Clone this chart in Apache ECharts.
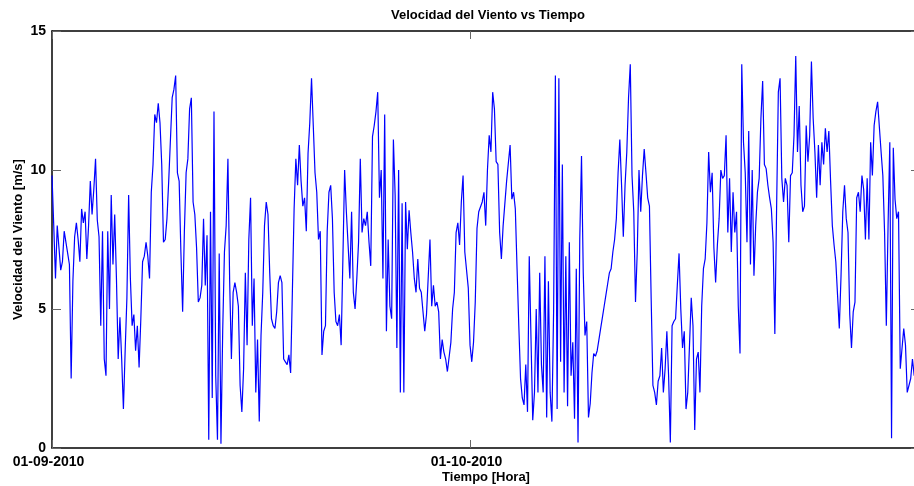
<!DOCTYPE html>
<html>
<head>
<meta charset="utf-8">
<script src="https://cdn.jsdelivr.net/npm/echarts@6.0.0/dist/echarts.min.js"></script>
<style>
html, body { margin: 0; padding: 0; background: #ffffff; }
#chart { width: 914px; height: 486px; }
</style>
</head>
<body>
<div id="chart"></div>
<script>
// Wind speed [m/s], one reading every 3 hours starting 01-09-2010 00:00
const stepHours = 3;
const speed = [
  9.8, 8.0, 6.1, 8.0, 8.0, 6.4, 6.7, 7.8, 7.8, 7.0, 6.6, 2.5, 6.0, 7.6, 8.1, 7.5, 6.7, 8.6, 8.1, 8.5,
  6.8, 8.0, 9.6, 8.4, 9.3, 10.4, 8.2, 7.6, 4.4, 7.8, 3.2, 2.6, 7.8, 5.0, 9.1, 6.6, 8.4, 6.1, 3.2, 4.7,
  3.2, 1.4, 3.5, 5.4, 9.1, 6.1, 4.4, 4.8, 3.5, 4.4, 2.9, 4.65, 6.7, 6.9, 7.4, 6.9, 6.1, 9.2, 10.2, 12.0,
  11.7, 12.4, 11.7, 10.2, 7.4, 7.5, 8.25, 9.6, 9.6, 12.6, 12.9, 13.4, 9.9, 9.6, 7.05, 4.9, 7.8, 9.9, 10.4, 12.2,
  12.6, 8.85, 8.4, 7.2, 5.25, 5.4, 5.85, 8.25, 5.85, 7.65, 0.3, 8.5, 1.8, 12.1, 2.6, 0.3, 7.0, 0.15, 4.2, 7.05,
  8.0, 10.4, 6.0, 3.2, 5.6, 5.95, 5.6, 5.1, 2.25, 1.3, 2.85, 6.3, 3.7, 7.5, 9.0, 4.4, 6.1, 2.0, 3.9, 0.95,
  4.05, 5.6, 8.0, 8.85, 8.4, 6.3, 4.65, 4.4, 4.3, 4.9, 5.95, 6.2, 5.95, 3.2, 3.1, 3.0, 3.35, 2.7, 5.6, 8.6,
  10.4, 9.45, 10.9, 9.6, 8.7, 9.0, 7.8, 10.6, 11.7, 13.3, 11.6, 9.9, 9.2, 7.5, 7.8, 3.35, 4.2, 4.4, 7.8, 9.2,
  9.45, 8.25, 5.6, 4.55, 4.4, 4.8, 3.7, 6.8, 10.0, 8.5, 8.5, 6.1, 8.5, 5.6, 5.0, 6.1, 7.4, 10.4, 7.75, 8.25,
  8.0, 8.5, 7.4, 6.55, 11.2, 11.6, 12.1, 12.8, 9.0, 10.0, 6.1, 12.0, 4.2, 7.5, 5.1, 4.65, 11.1, 9.1, 3.6, 10.0,
  2.0, 8.8, 2.0, 8.85, 7.15, 8.55, 7.75, 7.05, 6.1, 5.6, 6.8, 5.75, 5.6, 4.9, 4.2, 4.8, 4.8, 7.5, 5.1, 5.85,
  5.1, 5.25, 4.9, 3.2, 3.9, 3.45, 3.2, 2.75, 2.7, 3.8, 5.0, 5.6, 7.75, 8.1, 7.3, 8.85, 9.8, 7.05, 7.05, 5.75,
  3.7, 3.1, 3.8, 5.25, 7.9, 8.5, 8.5, 8.85, 9.2, 8.0, 10.0, 11.25, 10.65, 12.8, 12.2, 10.3, 10.2, 7.75, 6.8, 8.0,
  8.0, 9.6, 9.6, 10.9, 8.95, 9.2, 8.6, 6.45, 4.4, 2.5, 1.8, 1.55, 3.0, 1.3, 6.9, 3.95, 1.0, 2.0, 5.0, 2.0,
  6.3, 3.0, 2.0, 6.9, 1.1, 6.0, 2.0, 0.95, 5.0, 13.4, 1.4, 13.3, 3.1, 10.2, 2.0, 6.9, 1.5, 7.4, 2.6, 3.8,
  1.05, 6.45, 0.2, 7.5, 10.5, 6.3, 4.05, 4.55, 1.1, 1.6, 2.7, 3.4, 3.3, 3.5, 3.9, 4.3, 4.7, 5.1, 5.5, 5.9,
  6.3, 6.45, 7.05, 7.5, 8.25, 9.9, 11.1, 9.45, 7.6, 9.45, 10.65, 12.6, 13.8, 9.8, 8.5, 5.25, 7.05, 10.0, 8.5, 9.8,
  10.75, 9.9, 9.0, 8.7, 5.35, 2.25, 2.0, 1.55, 2.4, 2.6, 3.6, 2.0, 2.85, 4.2, 2.6, 0.2, 4.4, 4.55, 4.65, 5.85,
  7.0, 5.0, 3.6, 4.2, 1.4, 2.0, 3.7, 5.4, 4.4, 0.65, 3.2, 3.45, 2.0, 5.1, 6.45, 6.8, 8.1, 10.65, 9.2, 9.9,
  7.2, 5.95, 7.3, 8.25, 10.0, 9.7, 9.8, 11.25, 7.75, 9.7, 7.05, 9.2, 7.75, 8.5, 5.1, 3.4, 13.8, 11.0, 9.9, 7.4,
  11.4, 6.6, 10.0, 6.2, 8.0, 9.2, 9.7, 11.85, 13.2, 10.2, 10.05, 9.45, 9.0, 8.6, 7.4, 4.1, 8.6, 12.8, 13.3, 9.7,
  8.85, 9.7, 9.45, 7.4, 9.8, 9.9, 11.25, 14.1, 10.65, 12.3, 9.45, 8.5, 8.7, 11.6, 10.3, 11.25, 13.9, 11.85, 10.65, 9.0,
  10.9, 9.45, 11.0, 10.2, 11.5, 10.65, 11.4, 9.6, 8.0, 7.3, 6.7, 5.5, 4.3, 6.2, 8.5, 9.45, 8.25, 7.75, 4.8, 3.6,
  4.9, 5.25, 9.0, 9.2, 8.5, 9.8, 9.3, 7.5, 9.7, 7.5, 11.0, 9.8, 11.6, 12.1, 12.45, 12.5, 10.65, 9.8, 7.75, 4.4,
  8.0, 11.0, 0.35, 10.8, 8.95, 8.25, 8.5, 2.85, 2.85, 4.3, 3.7, 2.0, 2.0, 2.5, 3.2, 2.6
];

// Date ticks, in hours since 01-09-2010 00:00
const tickHours = [0, 720];
const tickLabels = ['01-09-2010', '01-10-2010'];
const yTicks = [0, 5, 10, 15];
const hourSpan = 1495;

const font = 'Liberation Sans, Arial, Helvetica, sans-serif';
const seriesData = speed.map((v, i) => [i * stepHours, v]);

function dateLabel(v) {
  const k = tickHours.indexOf(v);
  return k >= 0 ? tickLabels[k] : '';
}

const boxLine = { show: true, onZero: false, lineStyle: { color: '#000', width: 1.5 } };
const tickStyle = { color: '#666', width: 1 };

const chart = echarts.init(document.getElementById('chart'), null, { renderer: 'canvas' });
chart.setOption({
  animation: false,
  backgroundColor: '#ffffff',
  title: {
    text: 'Velocidad del Viento vs Tiempo',
    left: 391,
    top: 9,
    padding: 0,
    textStyle: { fontFamily: font, fontSize: 13, fontWeight: 'bold', color: '#000' }
  },
  grid: { left: 52, top: 31, right: -6, bottom: 38, containLabel: false, outerBoundsMode: 'none' },
  xAxis: [
    {
      type: 'value', position: 'bottom', min: 0, max: hourSpan, interval: 720,
      axisLine: boxLine,
      axisTick: { show: true, inside: true, length: 8, customValues: tickHours, lineStyle: tickStyle },
      axisLabel: {
        customValues: tickHours, formatter: dateLabel, margin: 7, padding: [0, 7, 0, 0],
        color: '#000', fontFamily: font, fontSize: 14, fontWeight: 'bold'
      },
      splitLine: { show: false },
      name: 'Tiempo [Hora]', nameLocation: 'middle', nameGap: 23, nameMoveOverlap: false,
      nameTextStyle: { fontFamily: font, fontSize: 13, fontWeight: 'bold', color: '#000' }
    },
    {
      type: 'value', position: 'top', min: 0, max: hourSpan, interval: 720,
      axisLine: boxLine,
      axisTick: { show: true, inside: true, length: 8, customValues: tickHours, lineStyle: tickStyle },
      axisLabel: { show: false },
      splitLine: { show: false }
    }
  ],
  yAxis: [
    {
      type: 'value', position: 'left', min: 0, max: 15, interval: 5,
      axisLine: boxLine,
      axisTick: { show: true, inside: true, length: 9, lineStyle: tickStyle },
      axisLabel: {
        margin: 6, formatter: v => (yTicks.includes(v) ? String(v) : ''),
        color: '#000', fontFamily: font, fontSize: 14, fontWeight: 'bold'
      },
      splitLine: { show: false },
      name: 'Velocidad del Viento [m/s]', nameLocation: 'middle', nameGap: 27, nameRotate: 90,
      nameMoveOverlap: false,
      nameTextStyle: { fontFamily: font, fontSize: 13, fontWeight: 'bold', color: '#000' }
    },
    {
      type: 'value', position: 'right', min: 0, max: 15, interval: 5,
      axisLine: boxLine,
      axisTick: { show: true, inside: true, length: 9, lineStyle: tickStyle },
      axisLabel: { show: false },
      splitLine: { show: false }
    }
  ],
  series: [
    {
      type: 'line',
      data: seriesData,
      xAxisIndex: 0,
      yAxisIndex: 0,
      showSymbol: false,
      symbol: 'none',
      lineStyle: { color: '#0000ff', width: 1.2 },
      emphasis: { disabled: true }
    }
  ]
});
</script>
</body>
</html>
